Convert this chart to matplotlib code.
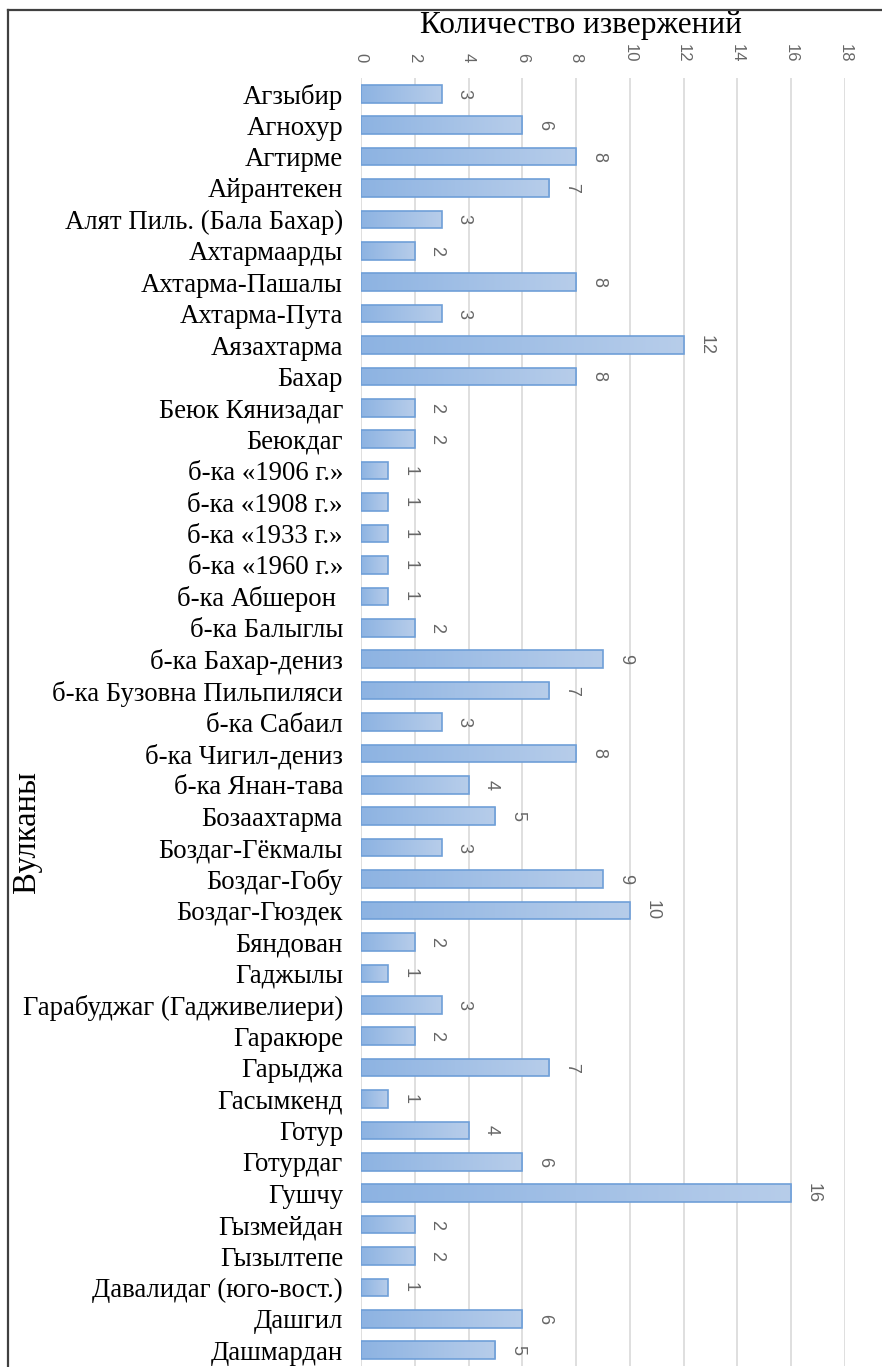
import numpy as np
from matplotlib import pyplot as plt
from matplotlib.colors import LinearSegmentedColormap
from matplotlib.lines import Line2D

volcanoes = [
    'Агзыбир', 'Агнохур', 'Агтирме', 'Айрантекен', 'Алят Пиль. (Бала Бахар)',
    'Ахтармаарды', 'Ахтарма-Пашалы', 'Ахтарма-Пута', 'Аязахтарма', 'Бахар',
    'Беюк Кянизадаг', 'Беюкдаг', 'б-ка «1906 г.»', 'б-ка «1908 г.»',
    'б-ка «1933 г.»', 'б-ка «1960 г.»', 'б-ка Абшерон ', 'б-ка Балыглы',
    'б-ка Бахар-дениз', 'б-ка Бузовна Пильпиляси', 'б-ка Сабаил',
    'б-ка Чигил-дениз', 'б-ка Янан-тава', 'Бозаахтарма', 'Боздаг-Гёкмалы',
    'Боздаг-Гобу', 'Боздаг-Гюздек', 'Бяндован', 'Гаджылы',
    'Гарабуджаг (Гадживелиери)', 'Гаракюре', 'Гарыджа', 'Гасымкенд', 'Готур',
    'Готурдаг', 'Гушчу', 'Гызмейдан', 'Гызылтепе', 'Давалидаг (юго-вост.)',
    'Дашгил', 'Дашмардан',
]
eruptions = [3, 6, 8, 7, 3, 2, 8, 3, 12, 8, 2, 2, 1, 1, 1, 1, 1, 2, 9, 7, 3,
             8, 4, 5, 3, 9, 10, 2, 1, 3, 2, 7, 1, 4, 6, 16, 2, 2, 1, 6, 5]
x_ticks = list(range(0, 19, 2))

serif = 'Liberation Serif'
sans = 'Liberation Sans'

W, H = 882, 1367
fig = plt.figure(figsize=(W / 100, H / 100), dpi=100)
ax = fig.add_axes([361 / W, 1 - 1366 / H, (845 - 361) / W, (1366 - 78) / H])

n = len(volcanoes)
ypos = np.arange(n)
bars = ax.barh(ypos, eruptions, height=0.56, facecolor='none',
               edgecolor='#6f9fd8', linewidth=1.2, zorder=3)

# per-bar horizontal gradient, darker on the left
grad = LinearSegmentedColormap.from_list('g', ['#8db3e2', '#b7cdea'])
strip = np.linspace(0, 1, 256).reshape(1, -1)
for b in bars:
    x0, y0 = b.get_x(), b.get_y()
    im = ax.imshow(strip, cmap=grad, aspect='auto', zorder=2,
                   extent=[x0, x0 + b.get_width(), y0 + b.get_height(), y0])
    im.set_clip_path(b)

for yi, v in zip(ypos, eruptions):
    ax.annotate(str(v), (v, yi), xytext=(16, 0), textcoords='offset points',
                ha='center', va='center', rotation=-90, fontsize=13,
                family=sans, color='#666666')

ax.set_xlim(0, 18)
ax.set_ylim(n - 0.5, -0.5)
ax.set_xticks(x_ticks)
ax.xaxis.tick_top()
ax.tick_params(axis='x', length=0, pad=11, labelsize=12, labelcolor='#666666',
               labelrotation=-90)
for t in ax.get_xticklabels():
    t.set_family(sans)
ax.set_yticks(ypos)
ax.set_yticklabels(volcanoes, family=serif, fontsize=19.3)
ax.tick_params(axis='y', length=0, pad=13)
ax.grid(axis='x', color='#d9d9d9', linewidth=1.2)
ax.set_axisbelow(True)
for s in ax.spines.values():
    s.set_visible(False)

fig.text(581 / W, 1 - 25 / H, 'Количество извержений', family=serif,
         fontsize=22.5, ha='center', va='center')
fig.text(27 / W, 1 - 832 / H, 'Вулканы', family=serif, fontsize=23.5,
         rotation=90, ha='center', va='center')

# chart frame (cut off at right and bottom)
fig.add_artist(Line2D([8 / W, 1.01], [1 - 10 / H, 1 - 10 / H],
                      transform=fig.transFigure, color='#404040', lw=1.6))
fig.add_artist(Line2D([8 / W, 8 / W], [1 - 10 / H, -0.01],
                      transform=fig.transFigure, color='#404040', lw=1.6))

fig.savefig('out.png', dpi=100)
